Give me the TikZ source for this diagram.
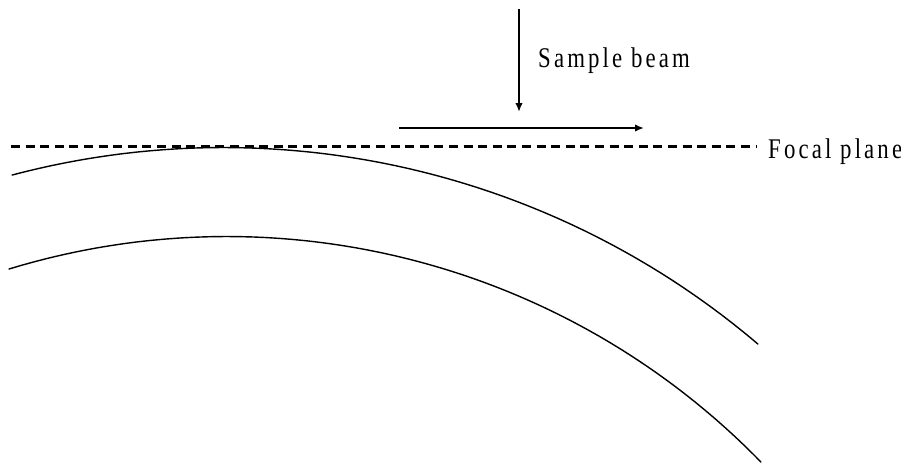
\documentclass[tikz,border=0pt]{standalone}
\usepackage{fontspec}
\setmainfont{Liberation Serif}[FakeStretch=0.8,LetterSpace=11]
\usetikzlibrary{arrows.meta}
\begin{document}
\begin{tikzpicture}[x=1pt,y=-1pt,
  beam/.style={line width=1.8pt,-{Latex[length=9pt,width=7.5pt]}},
  focal/.style={line width=2.1pt,dash pattern=on 9pt off 5.6pt},
  surface/.style={line width=1.4pt,line cap=round},
  lbl/.style={anchor=base west,inner sep=0pt,font=\fontsize{28.5}{30}\selectfont}]
\useasboundingbox (0,0) rectangle (901,463);
\coordinate (vtop) at (519,9);
\coordinate (vtip) at (519,112);
\coordinate (hstart) at (399,128);
\coordinate (htip) at (644,128);
\coordinate (fl) at (11,146.5);
\coordinate (fr) at (757,146.5);
\draw[beam] (vtop) -- (vtip);
\draw[beam] (hstart) -- (htip);
\draw[focal] (fl) -- (fr);
\node[lbl] (sample) at (538,67) {Sample beam};
\node[lbl] (focal) at (768,158) {Focal plane};
% upper surface: circular arc, centre (223.4,972.7), radius 825.2
\draw[surface] plot[domain=104.84:49.63,samples=120,variable=\t]
  ({223.4+825.2*cos(\t)},{972.7-825.2*sin(\t)});
% lower surface: circular arc, centre (226.7,982.1), radius 745.6
\draw[surface] plot[domain=106.98:44.23,samples=120,variable=\t]
  ({226.7+745.6*cos(\t)},{982.1-745.6*sin(\t)});
\end{tikzpicture}
\end{document}
